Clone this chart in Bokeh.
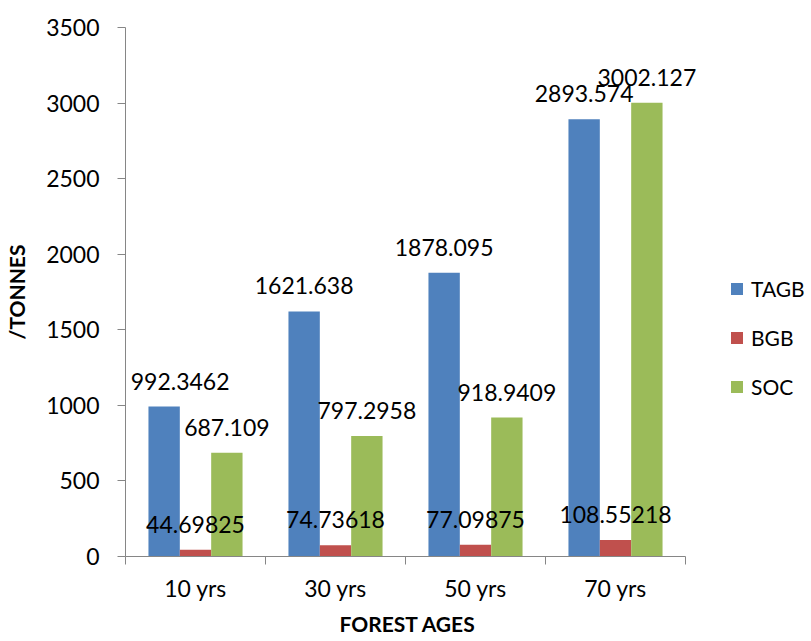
from bokeh.plotting import figure
from bokeh.models import (ColumnDataSource, FixedTicker, LabelSet, Legend,
                          LegendItem, Range1d, Title)
from bokeh.core.properties import value
from bokeh.embed import file_html
from bokeh.resources import INLINE

# Biomass / carbon stock by forest age
ages = ["10 yrs", "30 yrs", "50 yrs", "70 yrs"]
tagb = [992.3462, 1621.638, 1878.095, 2893.574]
bgb = [44.69825, 74.73618, 77.09875, 108.55218]
soc = [687.109, 797.2958, 918.9409, 3002.127]
y_ticks = [0, 500, 1000, 1500, 2000, 2500, 3000, 3500]

series = [("TAGB", tagb, "#4F81BD"), ("BGB", bgb, "#C0504D"), ("SOC", soc, "#9BBB59")]

FONT = "Lato"
AXIS_GREY = "#868686"
BAR_W = 0.224
N = len(ages)
# the frame runs on past the last group so the legend fits beside the bars
X_END = 4.9

p = figure(width=811, height=641, output_backend="svg", toolbar_location=None,
           x_range=Range1d(0, X_END), y_range=Range1d(0, 3500),
           min_border_left=125, min_border_right=0,
           min_border_top=27, min_border_bottom=85)
p.outline_line_color = None
p.xgrid.visible = False
p.ygrid.visible = False

legend_items = []
for k, (name, vals, color) in enumerate(series):
    shift = (k - 1) * BAR_W
    xs = [i + 0.5 + shift for i in range(N)]
    src = ColumnDataSource(dict(
        x=xs, top=vals, text=[str(v) for v in vals],
        # first TAGB label is nudged right, clear of the value axis
        dx=[16 if (k == 0 and i == 0) else 0 for i in range(N)],
    ))
    r = p.vbar(x="x", top="top", width=BAR_W, source=src,
               fill_color=color, line_color=None)
    legend_items.append(LegendItem(label=name, renderers=[r]))
    labels = LabelSet(x="x", y="top", text="text", source=src,
                      x_offset="dx", y_offset=17,
                      text_align="center", text_baseline="alphabetic",
                      text_font=value(FONT), text_font_size=value("23px"),
                      text_color="black")
    p.add_layout(labels)

# x axis: category names centred, tick marks between groups,
# axis line limited to the span of the groups
xa = p.xaxis[0]
xa.bounds = (0, N)
xa.ticker = FixedTicker(ticks=[i + 0.5 for i in range(N)],
                        minor_ticks=list(range(N + 1)))
xa.major_label_overrides = {i + 0.5: a for i, a in enumerate(ages)}
xa.major_tick_out = 0
xa.major_tick_in = 0
xa.minor_tick_out = 8
xa.minor_tick_in = 0
xa.minor_tick_line_color = AXIS_GREY
xa.axis_line_color = AXIS_GREY
xa.major_label_text_font = FONT
xa.major_label_text_font_size = "23px"
xa.major_label_text_color = "black"
xa.major_label_standoff = 9

# x axis title, centred under the groups rather than the whole frame
p.add_layout(Title(text="FOREST AGES", align="left", offset=214,
                   text_font=FONT, text_font_size="21px",
                   text_font_style="bold", text_color="black",
                   standoff=9), "below")

ya = p.yaxis[0]
ya.ticker = FixedTicker(ticks=y_ticks, minor_ticks=[])
ya.major_tick_out = 8
ya.major_tick_in = 0
ya.major_tick_line_color = AXIS_GREY
ya.axis_line_color = AXIS_GREY
ya.major_label_text_font = FONT
ya.major_label_text_font_size = "23px"
ya.major_label_text_color = "black"
ya.major_label_standoff = 18
ya.axis_label = "/TONNES"
ya.axis_label_text_font = FONT
ya.axis_label_text_font_size = "21px"
ya.axis_label_text_font_style = "bold"
ya.axis_label_text_color = "black"
ya.axis_label_standoff = 14

# legend sits to the right of the last group
legend = Legend(items=legend_items, location=(604, 157), orientation="vertical",
                glyph_width=15, glyph_height=15, label_height=24,
                label_standoff=7, spacing=24, padding=0, margin=0,
                label_text_font=FONT, label_text_font_size="21px",
                label_text_color="black", border_line_color=None,
                background_fill_alpha=0)
p.add_layout(legend, "center")

open("out.html", "w").write(file_html(p, INLINE))
